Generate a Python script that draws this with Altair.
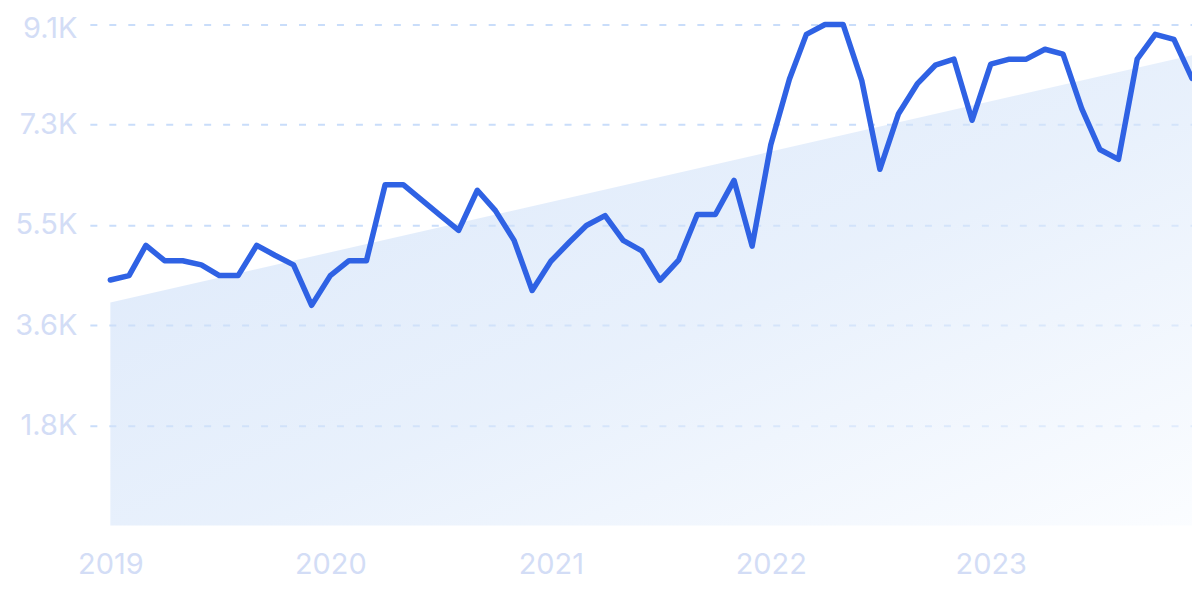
import altair as alt
import pandas as pd

# Monthly observations, Jan 2019 .. Dec 2023
months = list(pd.date_range("2019-01-01", periods=60, freq="MS").strftime("%Y-%m-%d"))
values = [
    4460, 4540, 5090, 4810, 4810, 4735, 4540, 4540, 5090, 4910, 4735, 4000,
    4540, 4810, 4810, 6190, 6190, 5910, 5640, 5360, 6090, 5720, 5180, 4270,
    4800, 5150, 5450, 5630, 5180, 4990, 4455, 4820, 5650, 5650, 6270, 5075,
    6915, 8110, 8920, 9100, 9100, 8080, 6470, 7480, 8020, 8360, 8470, 7360,
    8380, 8470, 8470, 8650, 8560, 7570, 6830, 6650, 8470, 8920, 8830, 8120,
]

# Trend band (straight line from start to end)
trend_dates = ["2019-01-01", "2023-12-01"]
trend_values = [4050, 8540]

y_ticks = [1820, 3640, 5460, 7280, 9100]
year_ticks = [2019, 2020, 2021, 2022, 2023]

line_df = pd.DataFrame({"date": months, "value": values})
trend_df = pd.DataFrame({"date": trend_dates, "value": trend_values})

FONT = "Inter"
LABEL_COLOR = "#d3ddf6"

x_scale = alt.Scale(
    type="utc",
    domain=[
        alt.DateTime(year=2018, month=11, date=28, utc=True),
        alt.DateTime(year=2023, month=12, date=1, utc=True),
    ],
)
y_scale = alt.Scale(domain=[0, 9100], nice=False, zero=True)

x_axis = alt.Axis(
    values=[alt.DateTime(year=y, month=1, date=1, utc=True) for y in year_ticks],
    labelExpr="utcFormat(datum.value, '%Y')",
    title=None,
    grid=False,
    domain=False,
    ticks=False,
    labelPadding=25,
    labelFontSize=29,
    labelFont=FONT,
    labelColor=LABEL_COLOR,
    labelFlush=False,
)
y_axis = alt.Axis(
    values=y_ticks,
    labelExpr="format(datum.value / 1000, '.1f') + 'K'",
    title=None,
    grid=True,
    gridColor="#c9ddfa",
    gridDash=[7, 12],
    gridWidth=2,
    domain=False,
    ticks=False,
    labelPadding=13,
    labelFontSize=29,
    labelFont=FONT,
    labelColor=LABEL_COLOR,
    labelOffset={"condition": {"test": f"datum.value == {max(y_ticks)}", "value": 4}, "value": 0},
)

gradient = alt.Gradient(
    gradient="linear",
    stops=[
        alt.GradientStop(color="#c4d9f7", offset=0),
        alt.GradientStop(color="#d9e7fa", offset=0.55),
        alt.GradientStop(color="#f8fbff", offset=1),
    ],
    x1=0, y1=0, x2=1, y2=1,
)

area = alt.Chart(trend_df).mark_area(
    color=gradient, fillOpacity=0.6, interpolate="linear"
).encode(
    x=alt.X("date:T", scale=x_scale, axis=x_axis),
    y=alt.Y("value:Q", scale=y_scale, axis=y_axis),
)

line = alt.Chart(line_df).mark_line(
    color="#2f62e4", strokeWidth=5.5, strokeJoin="round", strokeCap="round"
).encode(
    x=alt.X("date:T", scale=x_scale, axis=x_axis),
    y=alt.Y("value:Q", scale=y_scale, axis=y_axis),
)

chart = alt.layer(area, line).properties(
    width=1104,
    height=502,
    autosize=alt.AutoSizeParams(type="none"),
    padding={"left": 82, "top": 16, "right": 0, "bottom": 70},
    background="white",
).configure_view(stroke=None)

chart.save("out.html", embed_options={"renderer": "svg", "actions": False})
